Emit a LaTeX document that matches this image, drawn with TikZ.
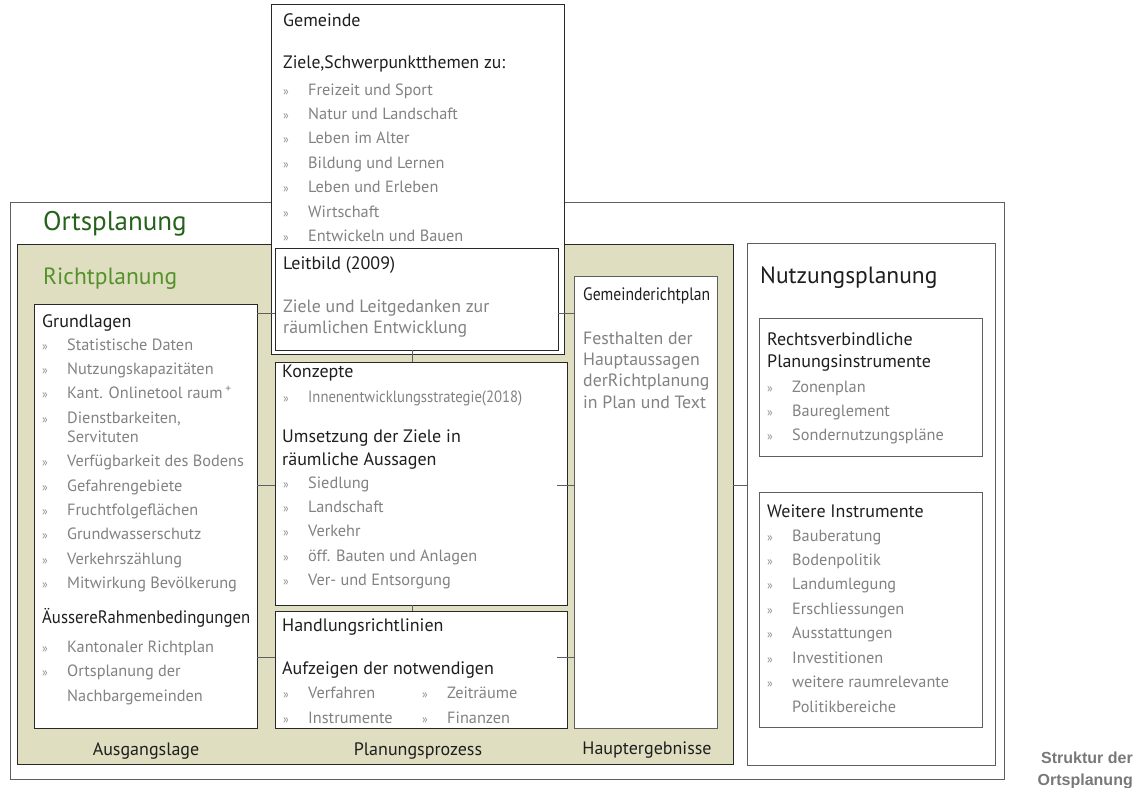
\documentclass[tikz,border=0pt]{standalone}
\usepackage{fontspec}
\setmainfont{PT Sans}
\newfontfamily\notefont{Liberation Sans}
\usetikzlibrary{positioning,calc}

\definecolor{planbg}{RGB}{223,222,193}
\definecolor{boxline}{RGB}{40,40,40}
\definecolor{linegray}{RGB}{95,95,95}
\definecolor{headcol}{RGB}{30,30,30}
\definecolor{itemgray}{RGB}{130,130,130}
\definecolor{bulletgray}{RGB}{145,145,145}
\definecolor{darkgreen}{RGB}{38,98,28}
\definecolor{lightgreen}{RGB}{84,146,42}
\definecolor{notegray}{RGB}{120,120,120}

\newcommand{\pkt}[1]{\makebox[25pt][l]{\textcolor{bulletgray}{\fontsize{12}{14}\selectfont »}}#1}
\newcommand{\narrow}[2]{\resizebox{#1pt}{\height}{#2}}

\tikzset{
  frame/.style={draw=linegray, line width=0.8pt, inner sep=0pt, outer sep=0pt, anchor=north west},
  box/.style={frame, draw=boxline, fill=white},
  link/.style={draw=linegray, line width=0.8pt},
  head/.style={anchor=base west, inner sep=0pt, text=headcol, font=\fontsize{18}{21}\selectfont},
  item/.style={head, text=itemgray, font=\fontsize{16.3}{19}\selectfont},
  lead/.style={head, text=itemgray, font=\fontsize{17.8}{21}\selectfont},
  title/.style={head, font=\fontsize{23.5}{27}\selectfont},
  foot/.style={head, anchor=base}
}

\begin{document}
\begin{tikzpicture}[x=1pt, y=-1pt]
\useasboundingbox (0,0) rectangle (1140,787);

% Rahmen
\node[frame, minimum width=994, minimum height=577] (ort) at (10,202) {};
\node[frame, draw=boxline, fill=planbg, minimum width=716, minimum height=520] (richt) at (17,244) {};
\node[box, draw=linegray, minimum width=248, minimum height=522] (nutz) at (747,243) {};

% Kaesten
\node[box, minimum width=293, minimum height=350] (gem) at (271,4) {};
\node[box, minimum width=283, minimum height=102] (leit) at (275,248) {};
\node[box, minimum width=223, minimum height=424] (grund) at (34,304) {};
\node[box, minimum width=292, minimum height=243] (konz) at (275,362) {};
\node[box, minimum width=292, minimum height=117] (hand) at (275,611) {};
\node[box, draw=linegray, minimum width=143, minimum height=452] (grp) at (574,276) {};
\node[box, draw=linegray, minimum width=223, minimum height=138] (rechts) at (759,318) {};
\node[box, draw=linegray, minimum width=223, minimum height=235] (weit) at (759,492) {};

% Verbindungen
\coordinate (l1) at (0,313);
\coordinate (l2) at (0,485);
\coordinate (l3) at (0,657);
\coordinate (v) at (412,0);
\draw[link] (grund.east |- l1) -- (leit.west |- l1);
\draw[link] (leit.east |- l1) -- (grp.west |- l1);
\draw[link] (grund.east |- l2) -- (konz.west |- l2);
\draw[link] ($(konz.east |- l2)+(-10,0)$) -- (grp.west |- l2);
\draw[link] (richt.east |- l2) -- (nutz.west |- l2);
\draw[link] (grund.east |- l3) -- (hand.west |- l3);
\draw[link] ($(hand.east |- l3)+(-10,0)$) -- (grp.west |- l3);
\draw[link] (v |- leit.south) -- (v |- konz.north);
\draw[link] (v |- konz.south) -- (v |- hand.north);

% Titel
\node[title, text=darkgreen, font=\fontsize{27}{31}\selectfont] (t-ort) at (43,230) {Ortsplanung};
\node[title, text=lightgreen] (t-richt) at (43,284) {Richtplanung};
\node[title] (t-nutz) at (760,283) {Nutzungsplanung};

% Gemeinde
\node[head] (g-head) at (283,27) {Gemeinde};
\node[head] (g-ziele) at (283,68) {\narrow{222}{Ziele,Schwerpunktthemen zu:}};
\foreach \t [count=\i from 0] in {Freizeit und Sport, Natur und Landschaft, Leben im Alter,
    Bildung und Lernen, Leben und Erleben, Wirtschaft, Entwickeln und Bauen}
  \node[item] (g-\i) at (283,95+24.4*\i) {\pkt{\t}};

% Leitbild
\node[head] (lb-head) at (283,269) {Leitbild (2009)};
\node[lead] (lb-1) at (283,312) {Ziele und Leitgedanken zur};
\node[lead] (lb-2) at (283,333) {räumlichen Entwicklung};

% Grundlagen
\node[head] (gl-head) at (42,327) {Grundlagen};
\foreach \y/\t [count=\i] in {350/Statistische Daten, 374.4/Nutzungskapazitäten,
    398.8/Kant. Onlinetool raum\,\textsuperscript{+}, 423.2/{Dienstbarkeiten,},
    466.6/Verfügbarkeit des Bodens, 491/Gefahrengebiete, 515.4/Fruchtfolgeflächen,
    539.8/Grundwasserschutz, 564.2/Verkehrszählung, 588.6/Mitwirkung Bevölkerung}
  \node[item] (gl-\i) at (42,\y) {\pkt{\t}};
\node[item] (gl-serv) at (67,442) {Servituten};
\node[head] (ar-head) at (42,623) {\narrow{208}{ÄussereRahmenbedingungen}};
\node[item] (ar-1) at (42,652) {\pkt{Kantonaler Richtplan}};
\node[item] (ar-2) at (42,676) {\pkt{Ortsplanung der}};
\node[item] (ar-3) at (67,701) {Nachbargemeinden};

% Konzepte
\node[head] (k-head) at (282,377) {Konzepte};
\node[item] (k-ies) at (283,402) {\pkt{\narrow{214}{Innenentwicklungsstrategie(2018)}}};
\node[head] (k-ums1) at (282,442) {Umsetzung der Ziele in};
\node[head] (k-ums2) at (282,465) {räumliche Aussagen};
\foreach \t [count=\i from 0] in {Siedlung, Landschaft, Verkehr, öff. Bauten und Anlagen, Ver- und Entsorgung}
  \node[item] (k-\i) at (283,488+24.4*\i) {\pkt{\t}};

% Handlungsrichtlinien
\node[head] (h-head) at (282,631) {Handlungsrichtlinien};
\node[head] (h-auf) at (282,674) {Aufzeigen der notwendigen};
\node[item] (h-1) at (283,698) {\pkt{Verfahren}};
\node[item] (h-2) at (283,723) {\pkt{Instrumente}};
\node[item] (h-3) at (422,698) {\pkt{Zeiträume}};
\node[item] (h-4) at (422,723) {\pkt{Finanzen}};

% Gemeinderichtplan
\node[head] (r-head) at (583,300) {\narrow{127}{Gemeinderichtplan}};
\foreach \t [count=\i from 0] in {Festhalten der, Hauptaussagen, derRichtplanung, in Plan und Text}
  \node[lead] (r-\i) at (583,344+21.4*\i) {\t};

% Nutzungsplanung
\node[head] (n-head1) at (767,345) {Rechtsverbindliche};
\node[head] (n-head2) at (767,367) {Planungsinstrumente};
\foreach \t [count=\i from 0] in {Zonenplan, Baureglement, Sondernutzungspläne}
  \node[item] (n-\i) at (767,392+24.4*\i) {\pkt{\t}};
\node[head] (w-head) at (767,517) {Weitere Instrumente};
\foreach \t [count=\i from 0] in {Bauberatung, Bodenpolitik, Landumlegung, Erschliessungen,
    Ausstattungen, Investitionen, weitere raumrelevante}
  \node[item] (w-\i) at (767,541+24.4*\i) {\pkt{\t}};
\node[item] (w-pol) at (792,712) {Politikbereiche};

% Fusszeilen
\node[foot] (f-aus) at (146,755) {Ausgangslage};
\node[foot] (f-proz) at (418,755) {Planungsprozess};
\node[foot] (f-erg) at (647,754) {Hauptergebnisse};

% Legende
\node[head, anchor=base east, text=notegray, font=\notefont\bfseries\fontsize{16}{19}\selectfont] (note1) at (1133,763) {Struktur der};
\node[head, anchor=base east, text=notegray, font=\notefont\bfseries\fontsize{16}{19}\selectfont] (note2) at (1133,785) {Ortsplanung};
\end{tikzpicture}
\end{document}
